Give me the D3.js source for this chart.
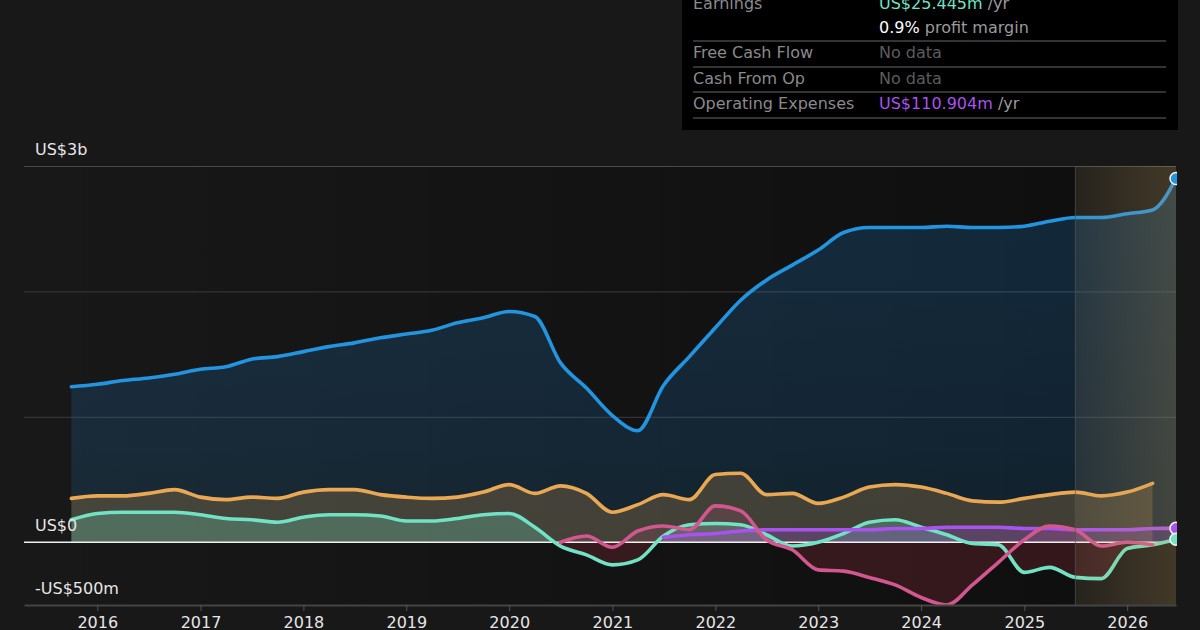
<!DOCTYPE html>
<html>
<head>
<meta charset="utf-8">
<script src="https://cdn.jsdelivr.net/npm/d3@7"></script>
<style>
  body { margin: 0; background: #181818; }
  svg { display: block; font-family: "DejaVu Sans", sans-serif; }
</style>
</head>
<body>
<div id="chart"></div>
<script>
// quarterly points, last one is the latest estimate
var dates = [
  "2015-10-01", "2016-01-01", "2016-04-01", "2016-07-01", "2016-10-01",
  "2017-01-01", "2017-04-01", "2017-07-01", "2017-10-01",
  "2018-01-01", "2018-04-01", "2018-07-01", "2018-10-01",
  "2019-01-01", "2019-04-01", "2019-07-01", "2019-10-01",
  "2020-01-01", "2020-04-01", "2020-07-01", "2020-10-01",
  "2021-01-01", "2021-04-01", "2021-07-01", "2021-10-01",
  "2022-01-01", "2022-04-01", "2022-07-01", "2022-10-01",
  "2023-01-01", "2023-04-01", "2023-07-01", "2023-10-01",
  "2024-01-01", "2024-04-01", "2024-07-01", "2024-10-01",
  "2025-01-01", "2025-04-01", "2025-07-01", "2025-10-01",
  "2026-01-01", "2026-04-01", "2026-06-23"
];

// values in US$ billions
var revenue = [
  1.24, 1.26, 1.29, 1.31, 1.34,
  1.38, 1.40, 1.46, 1.48,
  1.52, 1.56, 1.59, 1.63,
  1.66, 1.69, 1.75, 1.79,
  1.84, 1.80, 1.43, 1.23,
  1.01, 0.89, 1.25, 1.48,
  1.71, 1.93, 2.09, 2.21,
  2.33, 2.47, 2.51, 2.51,
  2.51, 2.52, 2.51, 2.51,
  2.52, 2.56, 2.59, 2.59,
  2.62, 2.65, 2.90
];

var cashFromOp = [
  0.35, 0.37, 0.37, 0.39, 0.42,
  0.36, 0.34, 0.36, 0.35,
  0.40, 0.42, 0.42, 0.38,
  0.36, 0.35, 0.36, 0.40,
  0.46, 0.39, 0.45, 0.39,
  0.24, 0.30, 0.38, 0.34,
  0.54, 0.55, 0.38, 0.39,
  0.31, 0.36, 0.44, 0.46,
  0.44, 0.39, 0.33, 0.32,
  0.35, 0.38, 0.40, 0.37,
  0.40, 0.47, null
];

var earnings = [
  0.18, 0.23, 0.24, 0.24, 0.24,
  0.22, 0.19, 0.18, 0.16,
  0.20, 0.22, 0.22, 0.21,
  0.17, 0.17, 0.19, 0.22,
  0.23, 0.12, -0.03, -0.10,
  -0.18, -0.14, 0.05, 0.14,
  0.15, 0.14, 0.06, -0.03,
  0.00, 0.07, 0.16, 0.18,
  0.12, 0.06, -0.01, -0.02,
  -0.24, -0.20, -0.28, -0.29,
  -0.05, -0.02, 0.025
];

var freeCashFlow = [
  null, null, null, null, null,
  null, null, null, null,
  null, null, null, null,
  null, null, null, null,
  null, null, 0.00, 0.05,
  -0.04, 0.09, 0.13, 0.10,
  0.29, 0.25, 0.02, -0.06,
  -0.22, -0.23, -0.28, -0.34,
  -0.44, -0.50, -0.34, -0.16,
  0.02, 0.13, 0.10, -0.03,
  0.00, -0.02, null
];

var opExpenses = [
  null, null, null, null, null,
  null, null, null, null,
  null, null, null, null,
  null, null, null, null,
  null, null, null, null,
  null, null, 0.04, 0.06,
  0.07, 0.09, 0.10, 0.10,
  0.10, 0.10, 0.10, 0.11,
  0.11, 0.12, 0.12, 0.12,
  0.11, 0.11, 0.10, 0.10,
  0.10, 0.11, 0.111
];

var yearTicks = [2016, 2017, 2018, 2019, 2020, 2021, 2022, 2023, 2024, 2025, 2026];
var gridValues = [1, 2, 3];
var yLabelValues = [3, 0, -0.5];
var yLabelTexts = ["US$3b", "US$0", "-US$500m"];
var forecastStart = "2025-07-01";

var tipLabels = ["Earnings", "", "Free Cash Flow", "Cash From Op", "Operating Expenses"];
var tipValues = ["US$25.445m", "0.9%", "No data", "No data", "US$110.904m"];
var tipUnits = [" /yr", " profit margin", "", "", " /yr"];

var width = 1200, height = 630;
var plotL = 24, plotR = 1176, plotT = 166, plotB = 605;

var parse = d3.utcParse("%Y-%m-%d");
var parsed = dates.map(parse);

var x = d3.scaleUtc()
  .domain([parse("2015-04-16"), parse("2026-06-23")])
  .range([plotL, plotR]);

var y = d3.scaleLinear()
  .domain([-0.5, 3])
  .range([plotB, plotT]);

var svg = d3.select("#chart")
  .append("svg")
  .attr("width", width)
  .attr("height", height);

var defs = svg.append("defs");

defs.append("clipPath").attr("id", "plot")
  .append("rect").attr("x", plotL).attr("y", plotT - 10)
  .attr("width", plotR - plotL + 1).attr("height", plotB - plotT + 10);
defs.append("clipPath").attr("id", "above")
  .append("rect").attr("x", plotL).attr("y", plotT)
  .attr("width", plotR - plotL).attr("height", y(0) - plotT);
defs.append("clipPath").attr("id", "below")
  .append("rect").attr("x", plotL).attr("y", y(0))
  .attr("width", plotR - plotL).attr("height", plotB - y(0));

var past = defs.append("linearGradient").attr("id", "pastShade");
past.append("stop").attr("offset", 0).attr("stop-color", "#000").attr("stop-opacity", 0);
past.append("stop").attr("offset", 1).attr("stop-color", "#000").attr("stop-opacity", 0.38);

var fut = defs.append("linearGradient").attr("id", "futShade");
fut.append("stop").attr("offset", 0).attr("stop-color", "rgb(200,160,90)").attr("stop-opacity", 0.08);
fut.append("stop").attr("offset", 1).attr("stop-color", "rgb(200,160,90)").attr("stop-opacity", 0.24);

// blue fill slightly stronger near the line
var blueFade = defs.append("linearGradient").attr("id", "blueFade")
  .attr("gradientUnits", "userSpaceOnUse")
  .attr("x1", 0).attr("x2", 0).attr("y1", plotT).attr("y2", y(0));
blueFade.append("stop").attr("offset", 0).attr("stop-color", "#2196f3").attr("stop-opacity", 0.2);
blueFade.append("stop").attr("offset", 1).attr("stop-color", "#2196f3").attr("stop-opacity", 0.13);

var xF = x(parse(forecastStart));

// darker past background
svg.append("rect")
  .attr("x", plotL).attr("y", plotT)
  .attr("width", xF - plotL).attr("height", plotB - plotT)
  .attr("fill", "url(#pastShade)");

// grid
svg.append("g")
  .attr("transform", "translate(" + plotL + ",0)")
  .call(d3.axisLeft(y).tickValues(gridValues).tickSize(-(plotR - plotL)).tickFormat(""))
  .call(g => g.select(".domain").remove())
  .call(g => g.selectAll("line")
    .attr("stroke", d => d === 3 ? "#4a4a4a" : "#333")
    .attr("stroke-width", 1.2));

var series = [
  { values: revenue, color: "#2394df", fill: "url(#blueFade)", op: 1 },
  { values: cashFromOp, color: "#eaa853", fill: "#eaa853", op: 0.22 },
  { values: earnings, color: "#72e2c4", fill: "#72e2c4", op: 0.25 },
  { values: opExpenses, color: "#a952ee", fill: "#a952ee", op: 0.25 },
  { values: freeCashFlow, color: "#d2578e", fill: "#d2578e", op: 0.15 }
];

series.forEach(function(s) {
  s.points = parsed.map((d, i) => [d, s.values[i]]);
});

var line = d3.line()
  .defined(d => d[1] != null)
  .x(d => x(d[0]))
  .y(d => y(d[1]))
  .curve(d3.curveMonotoneX);

var area = d3.area()
  .defined(d => d[1] != null)
  .x(d => x(d[0]))
  .y0(y(0))
  .y1(d => y(d[1]))
  .curve(d3.curveMonotoneX);

var areas = svg.append("g").attr("clip-path", "url(#plot)");

series.forEach(function(s) {
  areas.append("g").attr("clip-path", "url(#above)")
    .append("path")
    .attr("d", area(s.points))
    .attr("fill", s.fill)
    .attr("fill-opacity", s.op);
  areas.append("g").attr("clip-path", "url(#below)")
    .append("path")
    .attr("d", area(s.points))
    .attr("fill", "#f04756")
    .attr("fill-opacity", 0.16);
});

// zero line
svg.append("line")
  .attr("x1", plotL).attr("x2", plotR)
  .attr("y1", y(0)).attr("y2", y(0))
  .attr("stroke", "#f0f0f0")
  .attr("stroke-width", 1.5);

var lines = svg.append("g").attr("clip-path", "url(#plot)");
series.forEach(function(s) {
  lines.append("path")
    .attr("d", line(s.points))
    .attr("fill", "none")
    .attr("stroke", s.color)
    .attr("stroke-width", 3.6)
    .attr("stroke-linejoin", "round")
    .attr("stroke-linecap", "round");
});

// forecast shading
svg.append("rect")
  .attr("x", xF).attr("y", plotT)
  .attr("width", plotR - xF).attr("height", plotB - plotT)
  .attr("fill", "url(#futShade)");
svg.append("line")
  .attr("x1", xF).attr("x2", xF)
  .attr("y1", plotT).attr("y2", plotB)
  .attr("stroke", "#555")
  .attr("stroke-opacity", 0.7);

// end dots
var last = parsed.length - 1;
var dots = svg.append("g").attr("clip-path", "url(#plot)");
[series[0], series[3], series[2]].forEach(function(s) {
  dots.append("circle")
    .attr("cx", x(parsed[last]))
    .attr("cy", y(s.values[last]))
    .attr("r", 6)
    .attr("fill", s.color)
    .attr("stroke", "#f4f4f4")
    .attr("stroke-width", 1.5);
});

// x axis
svg.append("g")
  .attr("transform", "translate(0," + plotB + ")")
  .call(d3.axisBottom(x)
    .tickValues(yearTicks.map(yy => new Date(Date.UTC(yy, 0, 1))))
    .tickFormat(d3.utcFormat("%Y"))
    .tickSize(6)
    .tickSizeOuter(0)
    .tickPadding(6))
  .call(g => g.select(".domain").attr("stroke", "#444").attr("stroke-width", 2))
  .call(g => g.selectAll(".tick line").attr("stroke", "#555"))
  .call(g => g.selectAll("text")
    .attr("fill", "#e6e6e6")
    .attr("font-size", 16)
    .attr("font-family", "DejaVu Sans, sans-serif"));

// y labels
svg.append("g")
  .selectAll("text")
  .data(yLabelValues)
  .enter()
  .append("text")
  .attr("x", 35)
  .attr("y", d => y(d) - 11)
  .attr("fill", "#e6e6e6")
  .attr("font-size", 16)
  .text((d, i) => yLabelTexts[i]);

// tooltip box
var tip = svg.append("g");
tip.append("rect")
  .attr("x", 682).attr("y", -10)
  .attr("width", 496).attr("height", 140)
  .attr("fill", "#000");

[41, 67, 92, 118].forEach(function(ly) {
  tip.append("line")
    .attr("x1", 693).attr("x2", 1166)
    .attr("y1", ly).attr("y2", ly)
    .attr("stroke", "#444")
    .attr("stroke-width", 1.5);
});

var rowY = [9, 33, 58, 84, 109];
var valueColors = ["#72e2c4", "#ffffff", "#5c5c5c", "#5c5c5c", "#a952ee"];

tipLabels.forEach(function(lbl, i) {
  tip.append("text")
    .attr("x", 693).attr("y", rowY[i])
    .attr("fill", "#8a8a8a")
    .attr("font-size", 16)
    .text(lbl);
  var t = tip.append("text")
    .attr("x", 879).attr("y", rowY[i])
    .attr("font-size", 16);
  t.append("tspan").attr("fill", valueColors[i]).text(tipValues[i]);
  t.append("tspan").attr("fill", "#9a9a9a").text(tipUnits[i]);
});
</script>
</body>
</html>
